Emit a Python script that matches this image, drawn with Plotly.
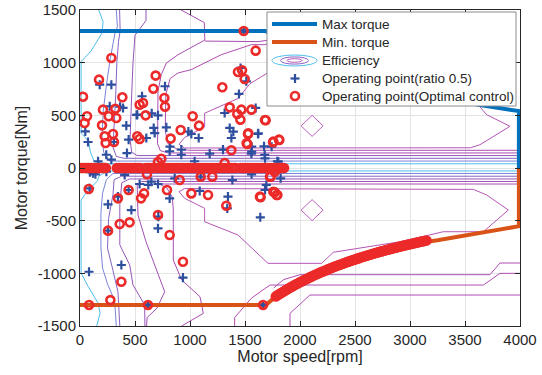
import plotly.graph_objects as go

# ---------------- data ----------------
speed_ticks = [0, 500, 1000, 1500, 2000, 2500, 3000, 3500, 4000]
torque_ticks = [-1500, -1000, -500, 0, 500, 1000, 1500]

max_torque_rpm = [0, 1690, 2000, 2500, 3000, 3500, 3650, 3990, 3990]
max_torque_nm = [1300, 1300, 1090, 870, 725, 620, 595, 540, 0]
min_torque_rpm = [0, 1690, 1780, 2000, 2250, 2500, 2750, 3000, 3250, 3500, 3750, 3990, 3990]
min_torque_nm = [-1300, -1300, -1219, -1085, -964, -868, -789, -723, -686, -640, -597, -553, 0]

# efficiency contour lines, one list per level (None separates pieces)
eff_l1_rpm = [170, 210, 200, 100, 10, 10, 75, 95, 130, 250, 4000, None,
              4000, 250, 170, 160, 60, 10, 10, 75, 166, 182, 152]
eff_l1_nm = [1500, 1390, 1280, 1110, 1010, 330, 260, 150, 60, 40, 40, None,
             -28, -28, -80, -120, -230, -304, -997, -1127, -1285, -1380, -1500]
eff_l2_rpm = [330, 340, 318, 273, 242, 212, 200, 215, 270, 4000, None,
              4000, 300, 240, 205, 190, 190, 205, 250, 315, 330]
eff_l2_nm = [1500, 1340, 1280, 1025, 800, 550, 300, 150, 66, 66, None,
             -52, -52, -110, -240, -430, -750, -950, -1100, -1260, -1500]
eff_l3_rpm = [360, 365, 350, 335, 325, 310, 300, 330, 400, 4000, None,
              4000, 380, 310, 300, 260, 250, 290, 345, 362]
eff_l3_nm = [1500, 1300, 1200, 1000, 700, 400, 200, 110, 92, 92, None,
             -78, -78, -110, -250, -480, -760, -930, -1175, -1500]
eff_l4_rpm = [600, 600, 500, 482, 470, 460, 455, 470, 520, 4000, None,
              4000, 450, 380, 362, 362, 452, 482, 588, 590]
eff_l4_nm = [1500, 1400, 1260, 1000, 700, 450, 266, 150, 118, 118, None,
             -104, -104, -140, -350, -730, -921, -1111, -1300, -1500]
eff_l5_rpm = [4000, 560, 520, 527, 600, 679, 709, 770, 700, 610, 605]
eff_l5_nm = [-128, -128, -160, -446, -700, -921, -1016, -1175, -1330, -1420, -1500]
eff_l6_rpm = [920, 1130, 1135, 890, 785, 739, 709, 705, 705, 730, 800, 4000, None,
              1135, 1618, 1724, 1950, None,
              4000, 720, 790, 840, 848, 848, 924, 1091, 1121, 924]
eff_l6_nm = [1500, 1380, 1215, 1075, 997, 886, 728, 400, 230, 165, 143, 143, None,
             1205, 1200, 1215, 1290, None,
             -152, -152, -190, -280, -399, -873, -1063, -1222, -1380, -1500]
eff_l7_rpm = [1950, 1679, 1558, 1285, 1012, 891, 820, 780, 775, 800, 880, 1000, 4000, None,
              1406, 1406, 1557, 1727, 3667, 3818, 4000, None,
              1909, 1909, 2090, 4000, None,
              1760, 1850, 2000, 3727, 3818, 4000]
eff_l7_nm = [1250, 1171, 1171, 1076, 934, 902, 850, 700, 350, 230, 180, 168, 168, None,
             -1500, -1420, -1237, -1111, -1111, -1000, -1000, None,
             -1500, -1380, -1206, -1206, None,
             -1140, -1060, -1013, -1013, -902, -902]
eff_l8_rpm = [950, 3550, 3636, 3909, 3697, 3620, 3300, 2900, 2300, 2197, 1709, 1545, 1436, 1133, 1133,
              951, 900, 950, None,
              951, 3576, 3697, 3894, 3667, 3303, 2909, 2303, 2197, 1709, 1436, 1133, 1133, 951, 900, 951]
eff_l8_nm = [190, 192, 221, 396, 506, 600, 610, 705, 800, 905, 905, 800, 660, 520, 390,
             290, 225, 190, None,
             -195, -203, -256, -399, -605, -605, -700, -800, -905, -905, -636, -510, -383, -288, -225, -195]
eff_l9_rpm = [2010, 2110, 2210, 2110, 2010, None, 2010, 2110, 2210, 2110, 2010]
eff_l9_nm = [400, 500, 400, 300, 400, None, -400, -300, -400, -500, -400]

# operating points, ratio 0.5
ratio_pos_rpm = [1488, 1460, 285, 179, 773, 1445, 1512, 564, 391, 270,
                 364, 515, 652, 709, 521, 1315, 1597, 421, 670, 785,
                 48, 73, 1012, 1079, 985, 1361, 1376, 1394, 1618, 442,
                 603, 679, 309, 427, 239, 815, 818, 921, 921, 1179,
                 1300, 1558, 1561, 1673, 1679, 1794, 164, 285, 1042, 1621,
                 1561, 1742, 1682, 1803]
ratio_pos_nm = [1300, 950, 791, 791, 776, 703, 823, 681, 570, 586,
                582, 503, 519, 500, 506, 522, 570, 402, 380, 386,
                348, 247, 323, 285, 345, 380, 285, 345, 323, 269,
                285, 332, 247, 142, 126, 159, 202, 174, 126, 136,
                174, 136, 202, 206, 126, 64, 64, 79, 64, 330,
                155, 202, 92, 60]
ratio_neg_rpm = [118, 406, 542, 648, 709, 861, 1097, 1385, 1824, 1694,
                 88, 255, 345, 442, 467, 815, 1088, 1345, 1339, 1639,
                 709, 712, 255, 376, 936, 82, 618, 1664, 1760, 1560,
                 1682, 621, 90, 140, 240]
ratio_neg_nm = [-50, -66, -152, -130, -152, -98, -82, -114, -98, -161,
                -193, -345, -272, -209, -399, -288, -218, -272, -383, -468,
                -573, -462, -595, -921, -1041, -985, -1300, -1300, -30, -60,
                -209, -161, -40, -60, -35]
ratio_zero_rpm = [50, 130, 200, 370, 460, 640, 760, 880, 1000, 1130, 1260, 1500, 1620, 1760]
ratio_zero_nm = [0, 0, 0, 0, 0, 0, 0, 0, 0, 0, 0, 0, 0, 0]

# operating points, optimal control
opt_pos_rpm = [1488, 1597, 285, 173, 688, 667, 27, 385, 767, 773,
               573, 542, 597, 209, 321, 330, 261, 64, 42, 200,
               300, 224, 233, 309, 521, 542, 824, 915, 1024, 1082,
               1294, 1436, 1473, 1497, 1361, 1430, 1467, 1458, 1558, 1688,
               1527, 1521, 1376, 1755, 1809, 739, 709, 1315, 1682, 1530,
               1515, 1758, 1812]
opt_pos_nm = [1300, 1114, 1045, 839, 877, 753, 677, 671, 665, 582,
              617, 601, 500, 554, 563, 475, 491, 491, 427, 405,
              323, 301, 237, 247, 301, 275, 279, 361, 491, 402,
              766, 912, 928, 845, 576, 513, 554, 459, 554, 453,
              323, 228, 168, 244, 269, 88, 57, 47, 456, 330,
              235, 250, 266]
opt_neg_rpm = [609, 906, 1097, 1203, 1733, 1770, 1800, 79, 442, 582,
               555, 345, 791, 1012, 1164, 1330, 1642, 1770, 1794, 709,
               815, 451, 361, 255, 936, 376, 276, 82, 618, 1664,
               1636, 1758, 1788, 1727]
opt_neg_nm = [-60, -114, -82, -82, -82, -35, -6, -199, -209, -241,
              -288, -288, -209, -241, -256, -358, -278, -231, -256, -446,
              -636, -516, -532, -595, -890, -1080, -1254, -1300, -1300, -1300,
              -272, -225, -256, -82]
opt_zero_rpm = [0, 20, 40, 60, 80, 100, 120, 140, 160, 180, 200, 220, 235,
                335, 355, 375, 395, 415, 435, 455, 475, 495, 515, 535, 550,
                600, 620, 640, 660, 680, 700, 720, 740, 760, 780, 800, 820, 840, 860, 880, 900,
                920, 940, 960, 980, 1000, 1020, 1040, 1060, 1080, 1100, 1120, 1140, 1160, 1180,
                1200, 1220, 1240, 1260, 1280, 1300, 1320, 1340, 1360, 1380, 1400, 1415,
                1460, 1480, 1500, 1520, 1540, 1560, 1580, 1600, 1620, 1640, 1660, 1680, 1700,
                1720, 1740, 1760, 1780, 1800, 1820, 1840, 1855]
opt_zero_nm = [0, 0, 0, 0, 0, 0, 0, 0, 0, 0, 0, 0, 0,
               0, 0, 0, 0, 0, 0, 0, 0, 0, 0, 0, 0,
               0, 0, 0, 0, 0, 0, 0, 0, 0, 0, 0, 0, 0, 0, 0, 0,
               0, 0, 0, 0, 0, 0, 0, 0, 0, 0, 0, 0, 0, 0,
               0, 0, 0, 0, 0, 0, 0, 0, 0, 0, 0, 0,
               0, 0, 0, 0, 0, 0, 0, 0, 0, 0, 0, 0, 0,
               0, 0, 0, 0, 0, 0, 0, 0]
opt_band_rpm = [1780, 1795, 1810, 1825, 1840, 1855, 1870, 1885, 1900, 1915, 1930, 1945, 1960, 1975,
                1990, 2005, 2020, 2035, 2050, 2065, 2080, 2095, 2110, 2125, 2140, 2155, 2170, 2185,
                2200, 2215, 2230, 2245, 2260, 2275, 2290, 2305, 2320, 2335, 2350, 2365, 2380, 2395,
                2410, 2425, 2440, 2455, 2470, 2485, 2500, 2515, 2530, 2545, 2560, 2575, 2590, 2605,
                2620, 2635, 2650, 2665, 2680, 2695, 2710, 2725, 2740, 2755, 2770, 2785, 2800, 2815,
                2830, 2845, 2860, 2875, 2890, 2905, 2920, 2935, 2950, 2965, 2980, 2995, 3010, 3025,
                3040, 3055, 3070, 3085, 3100, 3115, 3130, 3150]
opt_band_nm = [-1219, -1209, -1199, -1189, -1179, -1170, -1160, -1151, -1142, -1133, -1124, -1116, -1107, -1099,
               -1090, -1082, -1074, -1066, -1059, -1051, -1043, -1036, -1028, -1021, -1014, -1007, -1000, -993,
               -986, -980, -973, -967, -960, -954, -948, -941, -935, -929, -923, -918, -912, -906,
               -900, -895, -889, -884, -879, -873, -868, -863, -858, -853, -848, -843, -838, -833,
               -828, -824, -819, -814, -810, -805, -801, -796, -792, -788, -783, -779, -775, -771,
               -767, -763, -759, -755, -751, -747, -743, -739, -736, -732, -728, -724, -721, -717,
               -714, -710, -707, -703, -700, -696, -693, -689]

legend_labels = ["Max torque", "Min. torque", "Efficiency",
                 "Operating point(ratio 0.5)", "Operating point(Optimal control)"]

# ---------------- style ----------------
FONT = "Liberation Sans, Arial, sans-serif"
TXT = "#262626"
BLUE = "#0072BD"
ORANGE = "#D95319"
RED = "#EC2A2A"
PLUS = "#2E4E9E"
level_colors = ["#4DBEEE", "#7A84D8", "#8A62C2", "#9555B8", "#A050B4",
                "#A84CB0", "#B04EB0", "#B656B6", "#C060C2"]

fig = go.Figure()

levels = [(eff_l1_rpm, eff_l1_nm), (eff_l2_rpm, eff_l2_nm), (eff_l3_rpm, eff_l3_nm),
          (eff_l4_rpm, eff_l4_nm), (eff_l5_rpm, eff_l5_nm), (eff_l6_rpm, eff_l6_nm),
          (eff_l7_rpm, eff_l7_nm), (eff_l8_rpm, eff_l8_nm), (eff_l9_rpm, eff_l9_nm)]
for (xs, ys), col in zip(levels, level_colors):
    fig.add_trace(go.Scatter(x=xs, y=ys, mode="lines", line=dict(color=col, width=1),
                             hoverinfo="skip", showlegend=False, connectgaps=False))

fig.add_trace(go.Scatter(x=max_torque_rpm, y=max_torque_nm, mode="lines",
                         line=dict(color=BLUE, width=4), showlegend=False, hoverinfo="skip"))
fig.add_trace(go.Scatter(x=min_torque_rpm, y=min_torque_nm, mode="lines",
                         line=dict(color=ORANGE, width=4), showlegend=False, hoverinfo="skip"))

fig.add_trace(go.Scatter(x=ratio_pos_rpm + ratio_neg_rpm + ratio_zero_rpm,
                         y=ratio_pos_nm + ratio_neg_nm + ratio_zero_nm,
                         mode="markers", showlegend=False, hoverinfo="skip",
                         marker=dict(symbol="cross-thin", size=6.5,
                                     line=dict(color=PLUS, width=2.2))))
fig.add_trace(go.Scatter(x=opt_pos_rpm + opt_neg_rpm + opt_zero_rpm + opt_band_rpm,
                         y=opt_pos_nm + opt_neg_nm + opt_zero_nm + opt_band_nm,
                         mode="markers", showlegend=False, hoverinfo="skip",
                         marker=dict(symbol="circle-open", size=8, color=RED,
                                     line=dict(color=RED, width=2.6))))

# ---------------- layout geometry ----------------
W, H = 542, 375
L, R, T, B = 80, 22, 10, 49
PW, PH = W - L - R, H - T - B


def px(x):
    # window pixel x -> paper x
    return (x - L) / PW


def py(y):
    # window pixel y -> paper y
    return (H - B - y) / PH


shapes = [dict(type="rect", xref="paper", yref="paper", x0=px(267), x1=px(516), y0=py(106), y1=py(12),
               fillcolor="white", line=dict(color="#8C8C8C", width=1), layer="above")]
rows = [24, 42, 60.5, 78.5, 96]
shapes.append(dict(type="line", xref="paper", yref="paper", x0=px(272), x1=px(317), y0=py(rows[0]), y1=py(rows[0]),
                   line=dict(color=BLUE, width=4)))
shapes.append(dict(type="line", xref="paper", yref="paper", x0=px(272), x1=px(317), y0=py(rows[1]), y1=py(rows[1]),
                   line=dict(color=ORANGE, width=4)))
for hw, hh, col in [(22.5, 5.5, level_colors[0]), (14, 3.6, level_colors[2]), (7.5, 1.8, level_colors[7])]:
    shapes.append(dict(type="circle", xref="paper", yref="paper", x0=px(294.5 - hw), x1=px(294.5 + hw),
                       y0=py(rows[2] + hh), y1=py(rows[2] - hh), line=dict(color=col, width=1)))
shapes.append(dict(type="line", xref="paper", yref="paper", x0=px(290.5), x1=px(299.5), y0=py(rows[3]), y1=py(rows[3]),
                   line=dict(color=PLUS, width=2.2)))
shapes.append(dict(type="line", xref="paper", yref="paper", x0=px(295), x1=px(295), y0=py(rows[3] - 4.5), y1=py(rows[3] + 4.5),
                   line=dict(color=PLUS, width=2.2)))
shapes.append(dict(type="circle", xref="paper", yref="paper", x0=px(291), x1=px(299),
                   y0=py(rows[4] + 4), y1=py(rows[4] - 4), line=dict(color=RED, width=2.6)))

annotations = []
for lab, ry in zip(legend_labels, rows):
    annotations.append(dict(xref="paper", yref="paper", x=px(320), y=py(ry), text=lab, showarrow=False,
                            xanchor="left", yanchor="middle", font=dict(family=FONT, size=13.5, color=TXT)))

axis_common = dict(showline=True, linecolor=TXT, linewidth=1, mirror="ticks", ticks="inside", ticklen=5,
                   tickcolor=TXT, showgrid=True, gridcolor="#E3E3E3", gridwidth=1, zeroline=False,
                   automargin=False, tickfont=dict(family=FONT, size=15, color=TXT))

fig.update_layout(
    width=W, height=H, margin=dict(l=L, r=R, t=T, b=B, autoexpand=False),
    paper_bgcolor="white", plot_bgcolor="white", showlegend=False,
    xaxis=dict(range=[0, 4000], tickvals=speed_ticks, ticktext=[str(v) for v in speed_ticks],
               title=dict(text="Motor speed[rpm]", font=dict(family=FONT, size=16, color=TXT), standoff=2),
               **axis_common),
    yaxis=dict(range=[-1500, 1500], tickvals=torque_ticks, ticktext=[str(v) for v in torque_ticks],
               title=dict(text="Motor torque[Nm]", font=dict(family=FONT, size=16, color=TXT), standoff=6),
               **axis_common),
    shapes=shapes, annotations=annotations,
)

# remove the default 8 px page margin so the figure sits at the window origin; hide the mode bar
fig.write_html("out.html",
               config={"displayModeBar": False},
               post_script="document.body.style.margin='0';document.body.style.overflow='hidden';")
